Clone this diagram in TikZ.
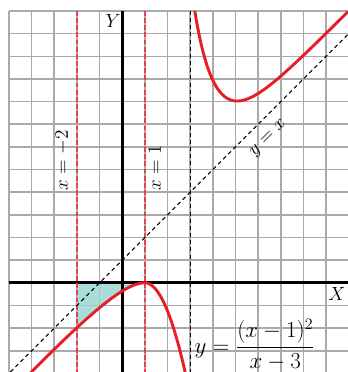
\documentclass[tikz,border=0pt]{standalone}
\usepackage{amsmath}
\usepackage{tikz}
\usetikzlibrary{positioning}

\definecolor{gridgray}{RGB}{170,170,174}
\definecolor{curvered}{RGB}{232,30,38}
\definecolor{asymred}{RGB}{238,62,74}
\definecolor{areateal}{RGB}{150,212,206}

\begin{document}
\begin{tikzpicture}[x=0.6cm, y=0.6cm,
    lbl/.style={font=\fontsize{14.4}{17}\selectfont, inner sep=1pt},
    redasym/.style={asymred, line width=1.3pt, dash pattern=on 3.6pt off 1.8pt},
    blackasym/.style={black, line width=0.8pt, dash pattern=on 3pt off 2.4pt},
    graphline/.style={curvered, line width=2.2pt, line join=round}]
        \useasboundingbox (-5.397,-3.938) rectangle (9.967,12.486);

        \draw[gridgray, line width=1.2pt, step=1] (-5,-3.938) grid (9.967,12);

        % shaded area between x=-2, the X axis and the curve
        \fill[areateal, fill opacity=0.8] plot[domain=-2:1, samples=40] (\x,{1.1*(\x-1)^2/(\x-3)}) -- (1,0) -- (-2,0) -- cycle;

        \draw[line width=2pt] (-5,0) -- (9.967,0);
        \draw[line width=2pt] (0,-3.938) -- (0,12);

        \draw[redasym] (-2,12) -- (-2,-3.938);
        \draw[redasym] (1,12) -- (1,-3.938);
        \draw[blackasym] (3,12) -- (3,-3.938);
        \draw[blackasym] (-4.938,-3.938) -- (9.967,10.967);

        % the two branches, as drawn in the figure
        \begin{scope}
            \clip (-5,-3.938) rectangle (9.967,12);
            \draw[graphline] plot[domain=-4.3:1, samples=60] (\x,{1.1*(\x-1)^2/(\x-3)})
                -- plot[domain=1:2.85, samples=40] (\x,{-1.25*(\x-1)^2});
            \draw[graphline] plot[domain=3.1:10.1, samples=90] (\x,{\x+2+8.4*exp(-1.05*(\x-3))});
        \end{scope}

        \node[lbl] (ylab) at (-0.4,11.55) {$Y$};
        \node[lbl] (xlab) at (9.48,-0.49) {$X$};
        \node[lbl, rotate=90, anchor=west] (lblm2) at (-2.64,4.0) {$x=-2$};
        \node[lbl, rotate=90, anchor=west] (lbl1) at (1.43,4.0) {$x=1$};
        \node[lbl, rotate=45] (lbldiag) at (6.47,6.37) {$y=x$};
        \node[lbl, font=\fontsize{17.28}{20}\selectfont] (eqn) at (5.85,-2.74) {$y=\dfrac{(x-1)^2}{x-3}$};
    \end{tikzpicture}
\end{document}
